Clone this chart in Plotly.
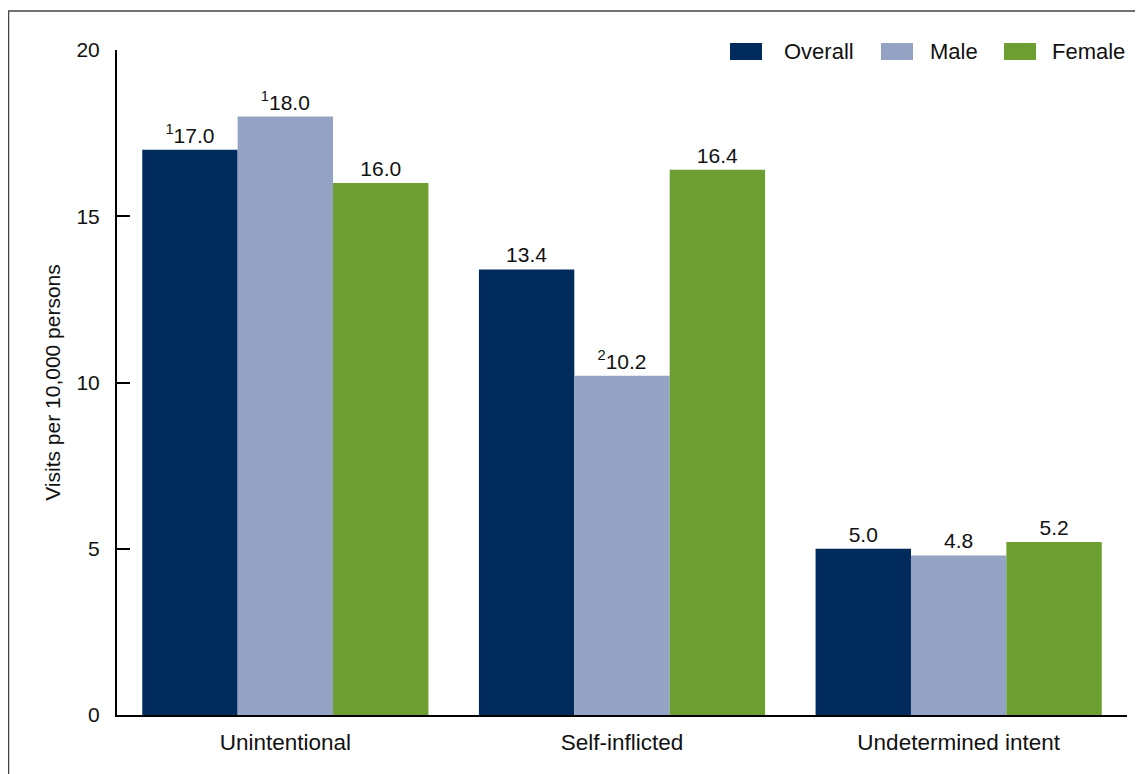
import plotly.graph_objects as go

categories = ["Unintentional", "Self-inflicted", "Undetermined intent"]
series_names = ["Overall", "Male", "Female"]
overall = [17.0, 13.4, 5.0]
male = [18.0, 10.2, 4.8]
female = [16.0, 16.4, 5.2]
overall_notes = ["1", "", ""]
male_notes = ["1", "2", ""]
female_notes = ["", "", ""]
y_ticks = [0, 5, 10, 15, 20]

colors = ["#002b5c", "#94a3c3", "#6d9e31"]
FONT = "Liberation Sans, Arial, sans-serif"

OFF = 8  # page body margin
W, H = 1135, 766
L, R, T, B = 117 - OFF, 16, 50 - OFF, 59


def labels(values, notes):
    out = []
    for v, n in zip(values, notes):
        s = f"{v:.1f}"
        if n:
            s = f"<sup>{n}</sup>" + s
        out.append(s)
    return out


fig = go.Figure()
for name, vals, notes, col in zip(series_names, [overall, male, female],
                                  [overall_notes, male_notes, female_notes], colors):
    fig.add_trace(go.Bar(
        name=name, x=categories, y=vals, marker=dict(color=col, line=dict(width=0)),
        text=labels(vals, notes), textposition="outside", cliponaxis=False,
        textfont=dict(family=FONT, size=21, color="#111111"),
        showlegend=False, hoverinfo="x+y+name",
    ))

pw = W - L - R
ph = H - T - B


def px2x(p):
    return (p - OFF - L) / pw


def py2y(p):
    return (H - B - (p - OFF)) / ph


shapes = [
    dict(type="rect", xref="paper", yref="paper", x0=px2x(8.5), x1=px2x(1150), y0=py2y(790), y1=py2y(11),
         line=dict(color="#444444", width=1.5), fillcolor="rgba(0,0,0,0)", layer="below"),
]
annotations = []
legend_items = [(730, 782), (881, 928), (1004, 1050)]
for (sx, tx), name, col in zip(legend_items, series_names, colors):
    shapes.append(dict(type="rect", xref="paper", yref="paper", x0=px2x(sx), x1=px2x(sx + 32),
                       y0=py2y(60), y1=py2y(43), fillcolor=col, line=dict(width=0)))
    annotations.append(dict(xref="paper", yref="paper", x=px2x(tx), y=py2y(52), text=name,
                            showarrow=False, xanchor="left", yanchor="middle",
                            font=dict(family=FONT, size=22, color="#111111")))

fig.update_layout(
    width=W, height=H,
    margin=dict(l=L, r=R, t=T, b=B, autoexpand=False),
    paper_bgcolor="white", plot_bgcolor="white",
    barmode="group", bargap=0.15, bargroupgap=0,
    font=dict(family=FONT, color="#111111"),
    shapes=shapes, annotations=annotations,
    showlegend=False,
)
fig.update_xaxes(
    showline=True, linecolor="black", linewidth=2, ticks="", showgrid=False,
    tickfont=dict(family=FONT, size=22.5, color="#111111"), automargin=False,
    range=[-0.5, 2.5], ticklabelstandoff=6,
)
fig.update_yaxes(
    range=[0, 20], tickvals=y_ticks, showline=True, linecolor="black", linewidth=2,
    ticks="inside", ticklen=13, tickwidth=2, tickcolor="black", showgrid=False, zeroline=False,
    tickfont=dict(family=FONT, size=21, color="#111111"), automargin=False,
    ticklabelstandoff=11,
    title=dict(text="Visits per 10,000 persons", font=dict(family=FONT, size=21, color="#111111"),
               standoff=10),
)

fig.write_html("out.html")
